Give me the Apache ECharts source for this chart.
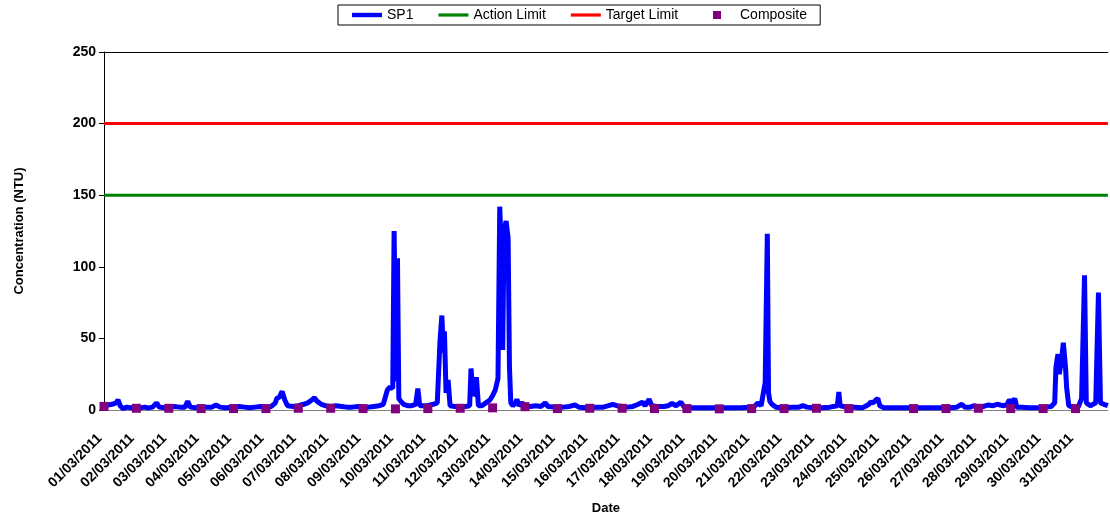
<!DOCTYPE html>
<html>
<head>
<meta charset="utf-8">
<script src="https://cdn.jsdelivr.net/npm/echarts@6/dist/echarts.min.js"></script>
<style>
  html, body { margin: 0; padding: 0; background: #fff; }
  #chart { width: 1110px; height: 520px; }
</style>
</head>
<body>
<div id="chart"></div>
<script>
// tick labels, one per day (index = days from 01/03/2011)
var dateLabels = [
  "01/03/2011", "02/03/2011", "03/03/2011", "04/03/2011", "05/03/2011", "06/03/2011",
  "07/03/2011", "08/03/2011", "09/03/2011", "10/03/2011", "11/03/2011", "12/03/2011",
  "13/03/2011", "14/03/2011", "15/03/2011", "16/03/2011", "17/03/2011", "18/03/2011",
  "19/03/2011", "20/03/2011", "21/03/2011", "22/03/2011", "23/03/2011", "24/03/2011",
  "25/03/2011", "26/03/2011", "27/03/2011", "28/03/2011", "29/03/2011", "30/03/2011",
  "31/03/2011"
];

// SP1 readings: hours since 01/03/2011 00:00 and NTU
var sp1Hours = [
  0, 3, 6, 9, 10.4, 12, 14, 17, 20, 24, 27, 30, 33, 36, 39, 41, 45, 48, 52, 56,
  60, 62, 64, 68, 72, 76, 80, 83, 86, 90, 96, 100, 104, 108, 112, 116, 120, 124, 127, 128,
  130, 132, 134, 136, 140, 144, 148, 151, 154, 156, 158, 161, 164, 168, 172, 176, 180, 184, 188, 192,
  196, 200, 204, 207, 210, 212, 214, 215, 216.5, 217.5, 218.5, 220, 222, 225, 228, 231, 232.6, 234, 237, 240,
  244, 247, 249, 250.4, 251.5, 252.3, 253.5, 255, 256.5, 260, 264, 268, 271, 272, 273.5, 275, 276, 277.5, 280, 283,
  286, 288, 290, 292, 293.3, 294.5, 295.5, 296.5, 298, 299.5, 300.5, 301.5, 303, 305, 306, 307.5, 310, 312, 316, 320,
  324, 327, 329, 334, 340, 345, 349, 352, 358, 364, 370, 374, 377, 380, 384, 388, 392, 396, 399, 401,
  404, 406, 410, 415, 418, 421, 424, 427.5, 430, 436, 442, 448, 454, 460, 466, 472, 478, 482, 484.5, 487,
  490, 491.6, 492.5, 493.5, 495, 498, 504, 510, 515, 518, 521, 526, 532, 538, 543.5, 544.6, 545.6, 550, 556, 562,
  565, 567, 568, 570, 572, 573.5, 575, 578, 584, 590, 596, 602, 608, 614, 620, 626, 632, 635.7, 638, 642,
  645, 648, 652, 655, 659, 662, 666, 669, 671, 673, 675, 676.5, 680, 686, 692, 698, 702, 704.6, 705.5, 707,
  708, 709.5, 711, 712.6, 713.4, 715, 718, 722, 724.5, 726.7, 728, 731, 735, 737, 738.5, 741, 744
];
var sp1Values = [
  3, 3.5, 4, 5, 7, 3, 1, 2, 1.5, 2, 1.5, 2, 1.5, 2, 5, 2, 1.5, 2, 2.5, 2,
  2, 6, 2, 1.5, 2, 2, 2, 3.5, 2, 1.5, 2, 2.5, 2, 1.5, 2, 2.5, 2, 2.5, 5, 8,
  9, 13, 7, 3, 2.5, 3, 4, 5, 7, 8.5, 6, 4, 3, 2.5, 3, 2.5, 2, 2, 2.5, 2,
  2, 2.5, 3, 4, 14, 16, 15, 125, 20, 106, 8, 6, 4, 3, 3, 4, 15, 3, 3, 3,
  4, 5, 48, 66, 40, 55, 12, 21, 3, 2.5, 2.5, 2.5, 3, 29, 10, 12, 23, 3, 3, 5,
  7, 10, 14, 22, 142, 110, 42, 125, 132, 120, 30, 5, 3, 5, 7.5, 3, 5, 3, 2.5, 3,
  2.5, 5, 2.5, 2, 2, 2.5, 3.5, 2, 1.5, 2, 2, 3, 4, 3, 2.5, 2, 2.5, 4, 5.5, 3,
  7.5, 3, 2.5, 2.5, 3, 4.5, 3, 5.5, 2, 1.5, 1.5, 1.5, 1.5, 1.5, 1.5, 1.5, 2, 2.5, 5, 3,
  19, 123, 12, 6, 4, 2, 1.5, 2, 2, 3, 2, 1.5, 1.5, 2, 3, 12.5, 3, 2, 2, 1.5,
  3, 4, 5.5, 5, 7, 8, 3, 1.5, 1.5, 1.5, 1.5, 1.5, 1.5, 1.5, 1.5, 1.5, 2, 4, 2, 2,
  3, 2, 2.5, 3.5, 3, 4, 3, 3.5, 7, 5, 8, 2, 2, 1.5, 1.5, 2, 2.5, 5, 30, 39,
  25, 34, 47, 30, 16, 3, 2, 2, 8, 94, 5, 3, 5, 82, 5, 4, 3
];

// composite sample, one per day (null = no sample)
var compositeValues = [
  2.5, 1.2, 1.2, 1.0, 1.0, 1.0, 1.2, 1.2, 1.0, 0.8, 1.0, 1.2, 1.5, 2.3, 1.0, 1.2,
  1.2, 1.0, 1.0, 0.8, 1.0, 1.0, 1.2, 1.0, null, 1.0, 1.0, 1.2, 1.0, 1.0, 1.0
];

var actionLimit = 150;
var targetLimit = 200;

var sp1Data = sp1Hours.map(function (h, i) { return [h / 24, sp1Values[i]]; });
var compositeData = [];
compositeValues.forEach(function (v, i) {
  if (v !== null) compositeData.push([i, v]);
});

var font = "'Liberation Sans', Arial, sans-serif";
// legend icons: flat bars for the lines
var thickLine = "path://M0,0L30,0L30,4.4L0,4.4Z";
var thinLine = "path://M0,0L30,0L30,3.2L0,3.2Z";

var myChart = echarts.init(document.getElementById("chart"));
var option = {
  backgroundColor: "#fff",
  animation: false,
  textStyle: { fontFamily: font },
  legend: [
    {
      // the boxed legend; wide right padding leaves room for the composite entry
      left: 338,
      top: 5,
      padding: [3, 142, 3, 14],
      borderColor: "#000",
      borderWidth: 1,
      itemWidth: 30,
      itemHeight: 8,
      itemGap: 25,
      symbolKeepAspect: true,
      textStyle: { fontFamily: font, fontSize: 14, color: "#000" },
      data: [
        { name: "SP1", icon: thickLine },
        { name: "Action Limit", icon: thinLine },
        { name: "Target Limit", icon: thinLine }
      ]
    },
    {
      left: 713,
      top: 5,
      padding: [3, 0, 3, 0],
      itemWidth: 8,
      itemHeight: 8,
      textStyle: { fontFamily: font, fontSize: 14, color: "#000", padding: [0, 0, 0, 14] },
      data: [{ name: "Composite", icon: "rect" }]
    }
  ],
  grid: {
    left: 104,
    right: 2,
    top: 52,
    bottom: 110
  },
  xAxis: [
    {
      type: "value",
      min: 0,
      max: 31,
      interval: 1,
      name: "Date",
      nameLocation: "middle",
      nameGap: 92,
      nameTextStyle: { fontFamily: font, fontSize: 13, fontWeight: "bold", color: "#000" },
      axisLine: { lineStyle: { color: "#808080", width: 1 } },
      axisTick: { show: false },
      splitLine: { show: false },
      axisLabel: {
        rotate: 45,
        margin: 22,
        padding: [0, 6, 0, 0],
        fontFamily: font,
        fontSize: 14,
        fontWeight: "bold",
        color: "#000",
        formatter: function (v) {
          return dateLabels[v] || "";
        }
      }
    },
    {
      type: "value",
      position: "top",
      min: 0,
      max: 31,
      axisLine: { show: true, lineStyle: { color: "#000", width: 1 } },
      axisTick: { show: false },
      axisLabel: { show: false },
      splitLine: { show: false }
    }
  ],
  yAxis: {
    type: "value",
    min: 0,
    max: 250,
    interval: 50,
    name: "Concentration (NTU)",
    nameLocation: "middle",
    nameGap: 78,
    nameTextStyle: { fontFamily: font, fontSize: 13, fontWeight: "bold", color: "#000" },
    axisLine: { show: true, lineStyle: { color: "#000", width: 1 } },
    axisTick: { show: true, length: 5, lineStyle: { color: "#000" } },
    splitLine: { show: false },
    axisLabel: {
      margin: 8,
      fontFamily: font,
      fontSize: 14,
      fontWeight: "bold",
      color: "#000"
    }
  },
  series: [
    {
      name: "SP1",
      type: "line",
      data: sp1Data,
      symbol: "none",
      color: "#0000FF",
      lineStyle: { color: "#0000FF", width: 5 },
      z: 2
    },
    {
      name: "Action Limit",
      type: "line",
      data: [[0, actionLimit], [31, actionLimit]],
      symbol: "none",
      color: "#008000",
      lineStyle: { color: "#008000", width: 3 },
      z: 3
    },
    {
      name: "Target Limit",
      type: "line",
      data: [[0, targetLimit], [31, targetLimit]],
      symbol: "none",
      color: "#FF0000",
      lineStyle: { color: "#FF0000", width: 3 },
      z: 3
    },
    {
      name: "Composite",
      type: "scatter",
      data: compositeData,
      symbol: "rect",
      symbolSize: 9,
      color: "#800080",
      itemStyle: { color: "#800080", opacity: 1 },
      z: 4
    }
  ]
};
myChart.setOption(option);
</script>
</body>
</html>
